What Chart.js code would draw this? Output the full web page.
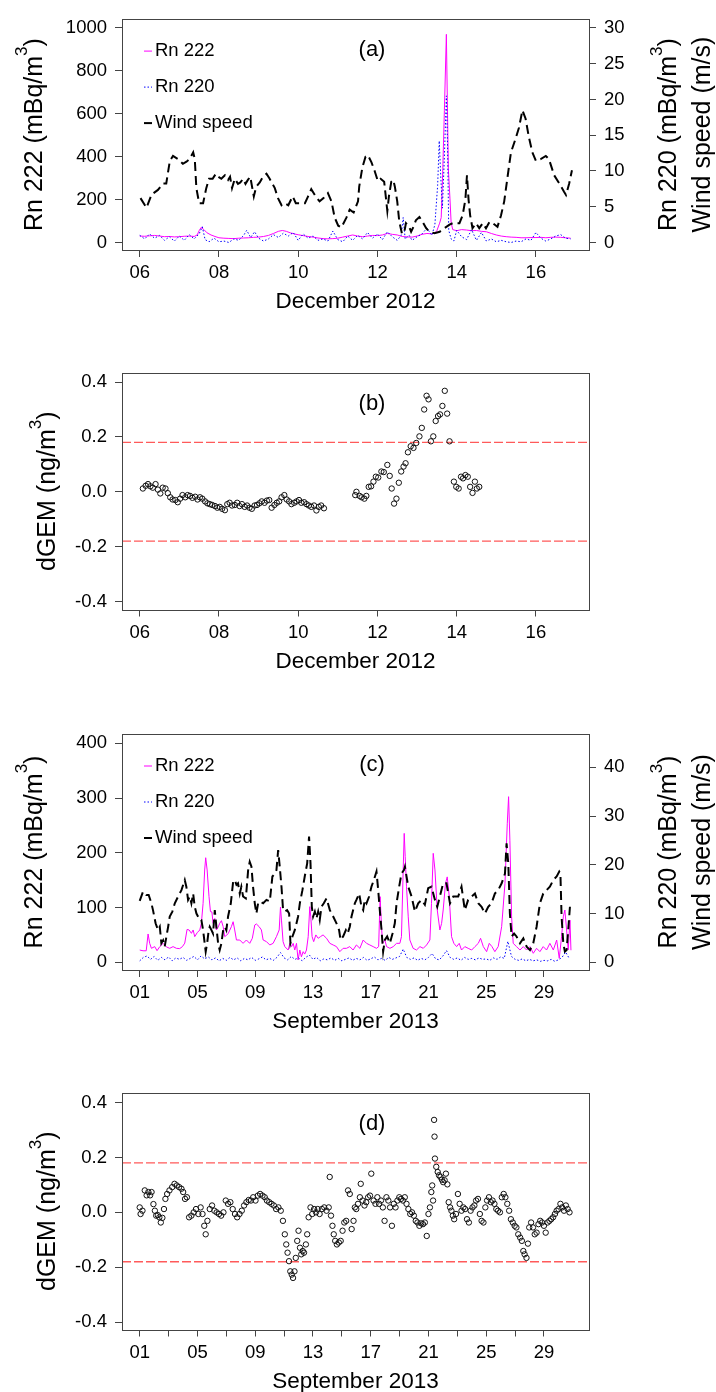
<!DOCTYPE html>
<html>
<head>
<meta charset="utf-8">
<script src="https://cdn.jsdelivr.net/npm/chart.js@4.4.1/dist/chart.umd.min.js"></script>
<style>
  html, body { margin: 0; padding: 0; background: #fff; }
  #wrap { position: relative; width: 716px; height: 1392px; overflow: hidden; background: #fff; }
  #wrap canvas { position: absolute; left: 0; }
</style>
</head>
<body>
<div id="wrap">
  <canvas id="panelA" width="716" height="345" style="top:0px"></canvas>
  <canvas id="panelB" width="716" height="360" style="top:345px"></canvas>
  <canvas id="panelC" width="716" height="360" style="top:705px"></canvas>
  <canvas id="panelD" width="716" height="327" style="top:1065px"></canvas>
</div>
<script>
// ---------- December 2012 (day of month, value) ----------
const rn222Dec = [
  [6.0,30],[6.125,29],[6.25,31],[6.375,33],[6.5,30],[6.625,27],[6.75,28],[6.875,26],[7.0,27],[7.125,29],
  [7.25,30],[7.375,28],[7.45,35],[7.5,55],[7.55,70],[7.62,60],[7.7,45],[7.8,35],[7.9,28],[8.0,22],
  [8.125,20],[8.25,19],[8.375,18],[8.5,20],[8.625,21],[8.75,22],[8.875,24],[9.0,25],[9.125,28],[9.25,33],
  [9.375,42],[9.5,52],[9.6,56],[9.7,52],[9.8,45],[9.9,40],[10.0,36],[10.125,32],[10.25,28],[10.375,25],
  [10.5,21],[10.625,18],[10.75,17],[10.875,18],[11.0,20],[11.125,25],[11.25,30],[11.375,35],[11.5,30],[11.625,27],
  [11.75,30],[11.875,33],[12.0,32],[12.125,35],[12.25,42],[12.375,38],[12.5,35],[12.625,28],[12.75,26],[12.875,25],
  [13.0,30],[13.125,38],[13.25,42],[13.375,40],[13.45,45],[13.5,55],[13.57,90],[13.61,116],[13.65,343],[13.69,615],
  [13.74,970],[13.79,343],[13.83,207],[13.86,94],[13.9,60],[14.0,55],[14.125,60],[14.25,58],[14.375,55],[14.5,56],
  [14.625,52],[14.75,50],[14.875,42],[15.0,35],[15.125,30],[15.25,27],[15.375,25],[15.5,24],[15.625,22],[15.75,22],
  [15.875,23],[16.0,23],[16.125,24],[16.25,22],[16.375,24],[16.5,25],[16.625,24],[16.75,22],[16.875,20]
];
const rn220Dec = [
  [6.0,1.0],[6.125,0.5],[6.25,1.2],[6.375,0.6],[6.5,1.0],[6.625,0.3],[6.75,0.8],[6.875,0.2],[7.0,0.9],[7.125,0.3],
  [7.25,1.1],[7.375,0.5],[7.5,1.2],[7.58,2.2],[7.65,0.4],[7.75,0.1],[7.875,0.6],[8.0,0.1],[8.125,0.2],[8.25,0.0],
  [8.375,0.5],[8.5,0.3],[8.625,1.0],[8.7,1.7],[8.8,0.7],[8.9,1.5],[9.0,0.6],[9.125,0.2],[9.25,0.5],[9.375,1.1],
  [9.5,0.7],[9.625,1.3],[9.75,0.9],[9.875,1.4],[10.0,0.3],[10.125,1.2],[10.25,0.6],[10.375,0.9],[10.5,0.3],[10.625,0.5],
  [10.75,0.2],[10.875,1.6],[11.0,0.4],[11.125,0.1],[11.25,0.9],[11.375,0.3],[11.5,1.0],[11.625,0.5],[11.75,1.4],[11.875,0.6],
  [12.0,1.2],[12.125,0.4],[12.25,1.5],[12.375,0.8],[12.5,0.3],[12.6,1.0],[12.65,3.5],[12.7,0.5],[12.8,1.0],[12.875,0.3],
  [13.0,0.8],[13.125,1.2],[13.25,2.0],[13.375,1.0],[13.45,2.5],[13.52,8.0],[13.56,14.2],[13.6,9.0],[13.64,4.8],[13.69,12.0],
  [13.74,20.5],[13.77,13.5],[13.8,1.7],[13.86,0.5],[13.93,0.2],[14.0,1.7],[14.125,0.8],[14.25,0.4],[14.375,1.8],[14.5,0.3],
  [14.625,1.4],[14.75,0.2],[14.875,0.5],[15.0,0.1],[15.125,0.3],[15.25,0.1],[15.375,0.0],[15.5,0.2],[15.625,0.1],[15.75,0.5],
  [15.875,0.3],[16.0,1.4],[16.125,0.6],[16.25,0.2],[16.375,0.5],[16.5,0.9],[16.625,1.1],[16.75,0.6],[16.875,0.5]
];
const windDec = [
  [6.02,6.2],[6.17,4.85],[6.3,6.7],[6.46,7.35],[6.59,8.25],[6.67,8.25],[6.76,11.4],[6.84,12.1],[6.97,11.65],[7.09,11.0],
  [7.18,11.3],[7.26,11.65],[7.35,12.6],[7.39,11.65],[7.43,7.6],[7.5,5.5],[7.6,5.5],[7.68,7.6],[7.75,8.9],[7.84,8.9],
  [7.92,9.6],[7.98,9.2],[8.06,8.9],[8.15,9.4],[8.23,8.75],[8.28,9.2],[8.33,7.6],[8.4,8.9],[8.48,8.2],[8.54,8.4],
  [8.61,8.9],[8.67,8.2],[8.73,8.75],[8.79,9.2],[8.88,6.45],[8.94,7.8],[9.03,8.4],[9.11,9.2],[9.2,9.6],[9.28,8.9],
  [9.41,7.6],[9.49,6.2],[9.58,5.2],[9.66,5.5],[9.75,5.2],[9.86,6.45],[9.94,5.5],[10.04,5.5],[10.17,5.5],[10.25,6.45],
  [10.33,7.45],[10.44,6.45],[10.54,5.75],[10.64,6.2],[10.75,6.9],[10.84,5.75],[10.92,3.5],[11.01,2.35],[11.09,2.1],[11.22,3.5],
  [11.3,4.6],[11.4,4.2],[11.51,5.75],[11.54,7.8],[11.62,10.5],[11.7,12.0],[11.76,12.2],[11.85,11.2],[11.93,10.0],[12.01,8.6],
  [12.08,8.9],[12.17,8.5],[12.25,4.4],[12.29,6.45],[12.35,8.5],[12.4,8.75],[12.44,7.8],[12.5,5.75],[12.55,3.0],[12.62,1.2],
  [12.68,1.5],[12.72,2.7],[12.8,2.2],[12.85,1.5],[12.91,2.2],[12.97,3.1],[13.06,3.55],[13.14,2.9],[13.23,2.0],[13.31,1.5],
  [13.44,1.3],[13.57,1.5],[13.69,2.0],[13.82,2.5],[13.9,2.7],[13.99,2.7],[14.07,2.7],[14.15,3.8],[14.22,6.0],[14.26,9.4],
  [14.3,6.0],[14.34,3.8],[14.4,2.0],[14.49,2.7],[14.57,2.0],[14.66,2.7],[14.74,2.0],[14.83,2.9],[14.91,2.7],[15.03,2.2],
  [15.12,3.8],[15.2,5.75],[15.29,9.4],[15.37,12.6],[15.48,14.4],[15.57,16.0],[15.66,18.5],[15.74,17.3],[15.82,14.8],[15.91,12.6],
  [16.0,11.4],[16.12,11.65],[16.25,12.1],[16.33,11.65],[16.46,9.4],[16.59,8.25],[16.71,7.1],[16.76,6.65],[16.84,8.25],[16.91,10.1]
];
const dgemDec = [
  [6.08,0.012],[6.15,0.022],[6.21,0.028],[6.27,0.020],[6.33,0.015],[6.40,0.028],[6.46,0.008],[6.52,-0.006],[6.58,0.015],[6.65,0.012],
  [6.71,-0.005],[6.77,-0.020],[6.83,-0.028],[6.90,-0.030],[6.96,-0.038],[7.02,-0.025],[7.08,-0.012],[7.15,-0.020],[7.21,-0.012],[7.27,-0.015],
  [7.33,-0.022],[7.40,-0.018],[7.46,-0.028],[7.52,-0.020],[7.58,-0.025],[7.65,-0.035],[7.71,-0.042],[7.77,-0.045],[7.83,-0.048],[7.90,-0.052],
  [7.96,-0.058],[8.02,-0.055],[8.08,-0.062],[8.15,-0.067],[8.21,-0.045],[8.27,-0.040],[8.33,-0.050],[8.40,-0.048],[8.46,-0.040],[8.52,-0.052],
  [8.58,-0.045],[8.65,-0.055],[8.71,-0.050],[8.77,-0.058],[8.83,-0.062],[8.90,-0.050],[8.96,-0.048],[9.02,-0.042],[9.08,-0.035],[9.15,-0.040],
  [9.21,-0.032],[9.27,-0.030],[9.33,-0.058],[9.40,-0.048],[9.46,-0.040],[9.52,-0.035],[9.58,-0.020],[9.65,-0.012],[9.71,-0.028],[9.77,-0.035],
  [9.83,-0.045],[9.90,-0.040],[9.96,-0.035],[10.02,-0.030],[10.08,-0.040],[10.15,-0.038],[10.21,-0.045],[10.27,-0.050],[10.33,-0.055],[10.40,-0.050],
  [10.46,-0.068],[10.52,-0.055],[10.58,-0.050],[10.65,-0.060],
  [11.44,-0.012],[11.47,0.0],[11.55,-0.015],[11.6,-0.02],[11.67,-0.025],[11.72,-0.015],[11.78,0.018],[11.84,0.02],[11.9,0.037],[11.96,0.055],
  [12.02,0.052],[12.1,0.074],[12.16,0.072],[12.25,0.098],[12.31,0.058],[12.36,0.012],[12.42,-0.043],[12.48,-0.025],[12.54,0.033],[12.6,0.074],
  [12.66,0.092],[12.71,0.104],[12.77,0.144],[12.84,0.166],[12.91,0.16],[12.98,0.178],[13.06,0.202],[13.12,0.233],[13.18,0.3],[13.24,0.35],
  [13.29,0.337],[13.35,0.184],[13.41,0.202],[13.47,0.258],[13.53,0.276],[13.58,0.282],[13.64,0.313],[13.7,0.368],[13.76,0.285],[13.82,0.184],
  [13.93,0.037],[13.99,0.018],[14.05,0.012],[14.11,0.055],[14.16,0.049],[14.22,0.061],[14.28,0.055],[14.34,0.018],[14.4,-0.004],[14.46,0.037],
  [14.51,0.012],[14.57,0.018]
];

// ---------- September 2013 (day of month, value) ----------
const rn222Sep = [
  [1.0,22.4],[1.23,21],[1.45,21],[1.58,51.7],[1.69,34.6],[1.81,25.5],[2.04,28.6],[2.2,21.2],[2.39,28.6],[2.62,34.6],
  [2.85,28],[3.08,25.5],[3.31,28.6],[3.54,25.5],[3.77,25],[3.96,28.6],[4.12,35],[4.28,60],[4.42,59],[4.58,52.9],
  [4.7,59],[4.81,46.8],[4.98,54],[5.16,59],[5.27,71.2],[5.39,107.6],[5.5,168.6],[5.57,191],[5.67,168.6],[5.8,119.9],
  [5.9,92.5],[6.0,92],[6.08,71.2],[6.2,80],[6.31,59],[6.43,64],[6.54,71.2],[6.66,76],[6.78,65],[6.89,46.8],
  [7.12,52],[7.35,65.1],[7.47,74.1],[7.58,59],[7.7,40.7],[7.93,40.7],[8.16,34.6],[8.39,40.7],[8.62,34.6],[8.8,43.8],
  [8.97,68.1],[9.08,70],[9.27,65.1],[9.43,59],[9.55,40.7],[9.78,37.7],[10.01,31.6],[10.24,34.6],[10.47,46.8],[10.66,59],
  [10.75,101],[10.82,77],[10.93,37.7],[11.05,28.6],[11.28,22.4],[11.4,34.6],[11.52,28.6],[11.63,34.6],[11.74,22.4],[11.86,34.6],
  [11.97,4.2],[12.09,22.4],[12.2,10],[12.32,19.4],[12.43,15],[12.55,22.4],[12.67,46.8],[12.78,101.6],[12.85,83],[12.94,46.8],
  [13.05,37.7],[13.2,50],[13.36,43.8],[13.52,46.8],[13.7,50],[13.94,43.8],[14.17,34.6],[14.4,31.6],[14.63,28.6],[14.86,19.4],
  [15.09,25.5],[15.32,25.5],[15.55,28.6],[15.78,22.4],[16.01,31.6],[16.25,25.5],[16.48,40.7],[16.71,34.6],[16.94,31.6],[17.17,28.6],
  [17.4,25.5],[17.55,28.6],[17.65,119.9],[17.75,65],[17.82,34.6],[17.98,40.7],[18.1,28.6],[18.33,25.5],[18.56,28.6],[18.79,34.6],
  [19.02,34.6],[19.13,46.8],[19.25,168.6],[19.32,235.5],[19.39,193],[19.48,138],[19.6,83],[19.71,40.7],[19.94,25.5],[20.17,22.4],
  [20.41,28.6],[20.64,25.5],[20.87,31.6],[21.1,40.7],[21.21,107.6],[21.33,199],[21.45,168.6],[21.61,95.5],[21.79,59],[21.91,71],
  [22.02,95.5],[22.18,144],[22.3,156],[22.44,120],[22.6,46.8],[22.76,34.6],[22.95,28.6],[23.13,34.6],[23.29,22.4],[23.52,28.6],
  [23.75,25.5],[23.99,22.4],[24.22,28.6],[24.45,34.6],[24.61,43.8],[24.8,28.6],[25.03,19.4],[25.21,34.6],[25.4,28.6],[25.6,19.4],
  [25.83,28.6],[26.07,65],[26.3,144],[26.46,254],[26.55,302.5],[26.64,223],[26.76,83],[26.87,34.6],[27.1,28.6],[27.34,22.4],
  [27.57,28.6],[27.8,22.4],[28.03,28.6],[28.26,16.4],[28.49,25.5],[28.72,19.4],[28.95,28.6],[29.18,22.4],[29.41,34.6],[29.65,22.4],
  [29.88,40.7],[30.06,7.2],[30.22,46.8],[30.34,83],[30.45,95.5],[30.57,59],[30.68,22.4],[30.8,77],[30.87,22]
];
// Rn 220 in September, one reading every 6 h from 1 Sep 00:00
const rn220SepStart = 1.0;
const rn220SepStep = 0.25;
const rn220Sep = [
  0.3, 1.0, 1.3, 0.6, 1.2, 0.4, 1.0, 0.5, 1.1, 0.3, 0.9, 0.6,
  1.0, 0.4, 0.8, 1.2, 0.5, 1.3, 0.7, 1.1, 0.5, 0.9, 0.3, 0.8,
  0.4, 1.0, 0.5, 0.9, 0.3, 0.8, 0.5, 1.0, 0.4, 0.7, 1.1, 0.5,
  0.8, 0.4, 1.0, 2.0, 0.9, 0.5, 1.2, 0.6, 0.9, 0.3, 1.0, 1.5,
  0.6, 1.0, 0.3, 0.7, 0.5, 0.9, 0.4, 0.8, 0.3, 0.6, 0.9, 0.4,
  0.8, 0.5, 1.0, 0.4, 0.7, 1.1, 0.5, 0.8, 0.4, 1.0, 0.6, 0.9,
  1.2, 2.7, 1.0, 0.6, 0.9, 0.4, 0.8, 0.5, 1.0, 1.8, 0.7, 0.5,
  1.3, 2.4, 1.0, 0.6, 0.9, 0.4, 1.0, 0.6, 0.8, 0.5, 0.9, 0.6,
  0.7, 0.4, 0.9, 0.6, 1.1, 0.8, 4.3, 1.2, 0.6, 0.4, 0.7, 0.3,
  0.6, 0.3, 0.5, 0.2, 0.4, 0.3, 0.6, 0.2, 0.5, 1.0, 2.1, 0.8
];
const windSep = [
  [1.0,12.6],[1.23,14.5],[1.46,13.8],[1.62,13.8],[1.81,12.1],[1.92,10.7],[2.1,8.0],[2.27,6.6],[2.39,7.3],[2.5,3.9],
  [2.62,4.5],[2.73,3.2],[2.85,5.3],[2.97,7.3],[3.08,9.4],[3.26,10.4],[3.43,12.1],[3.66,13.5],[3.89,14.8],[4.12,16.9],
  [4.23,15.5],[4.35,12.8],[4.47,13.5],[4.58,12.1],[4.7,14.1],[4.81,11.4],[4.93,10.0],[5.16,8.7],[5.27,8.7],[5.39,6.6],
  [5.5,3.9],[5.57,2.2],[5.67,3.9],[5.78,6.6],[5.85,7.3],[5.97,6.6],[6.08,5.9],[6.2,10.7],[6.31,7.3],[6.43,3.9],
  [6.54,2.5],[6.66,3.9],[6.78,6.6],[6.89,7.3],[7.0,6.6],[7.12,9.4],[7.31,12.1],[7.47,16.5],[7.58,16.9],[7.7,15.9],
  [7.81,16.2],[7.93,14.1],[8.04,15.5],[8.16,13.5],[8.35,13.1],[8.51,18.9],[8.62,20.6],[8.74,19.6],[8.85,15.5],[8.97,12.1],
  [9.08,10.0],[9.2,12.1],[9.31,12.5],[9.55,12.1],[9.78,12.8],[10.01,12.5],[10.19,17.6],[10.36,18.2],[10.47,18.9],[10.59,23.0],
  [10.7,19.6],[10.82,15.5],[10.93,10.7],[11.05,10.4],[11.21,10.7],[11.35,10.0],[11.44,3.9],[11.58,5.3],[11.74,6.6],[11.86,8.0],
  [11.97,9.4],[12.09,12.1],[12.27,14.8],[12.43,17.6],[12.6,20.3],[12.73,25.8],[12.83,20.3],[12.92,11.4],[13.01,9.4],[13.13,10.4],
  [13.24,9.0],[13.36,10.4],[13.47,8.7],[13.59,11.4],[13.75,12.1],[13.94,13.1],[14.17,10.7],[14.4,9.4],[14.63,8.0],[14.81,6.6],
  [14.91,4.6],[15.09,5.3],[15.28,6.6],[15.4,5.9],[15.55,7.3],[15.67,9.4],[15.78,10.7],[15.9,12.1],[16.01,12.8],[16.2,14.1],
  [16.36,11.4],[16.48,10.7],[16.59,12.8],[16.71,12.1],[16.89,13.5],[17.05,15.5],[17.22,16.9],[17.4,18.6],[17.52,14.8],[17.63,10.7],
  [17.75,6.6],[17.86,2.2],[17.98,4.6],[18.14,5.3],[18.33,3.9],[18.51,5.9],[18.67,8.0],[18.79,12.1],[18.97,15.5],[19.13,18.2],
  [19.3,18.9],[19.37,19.6],[19.6,15.5],[19.83,13.5],[20.06,10.4],[20.29,12.1],[20.52,12.8],[20.75,11.8],[20.98,15.2],[21.21,15.5],
  [21.45,12.8],[21.61,11.4],[21.79,13.5],[22.02,16.2],[22.25,16.2],[22.49,12.1],[22.72,13.5],[23.06,13.5],[23.29,15.5],[23.52,10.7],
  [23.75,12.8],[23.99,13.5],[24.22,14.1],[24.45,12.1],[24.68,11.4],[24.91,10.0],[25.14,11.4],[25.37,12.1],[25.6,14.1],[25.83,14.8],
  [26.07,16.2],[26.3,18.2],[26.41,24.4],[26.53,20.3],[26.64,10.0],[26.76,5.3],[26.93,5.9],[27.1,5.3],[27.34,3.9],[27.57,4.9],
  [27.8,3.2],[28.03,2.5],[28.26,3.9],[28.49,7.3],[28.72,12.1],[28.95,14.1],[29.18,14.8],[29.41,15.5],[29.65,16.9],[29.88,17.6],
  [30.06,18.6],[30.14,18.2],[30.22,9.4],[30.34,3.9],[30.45,2.2],[30.57,2.5],[30.68,6.6],[30.8,11.4]
];
const dgemSep = [
  [1.0,0.018],[1.06,-0.006],[1.19,0.006],[1.35,0.08],[1.48,0.062],[1.6,0.074],[1.72,0.062],[1.82,0.074],[1.95,0.03],[2.05,0.006],
  [2.14,-0.012],[2.25,-0.01],[2.36,-0.018],[2.46,-0.037],[2.57,-0.02],[2.68,0.012],[2.78,0.049],[2.9,0.067],[3.06,0.08],[3.25,0.092],
  [3.41,0.104],[3.57,0.098],[3.73,0.092],[3.89,0.086],[4.01,0.074],[4.14,0.049],[4.27,0.055],[4.42,-0.018],[4.58,-0.012],[4.74,0.0],
  [4.9,0.012],[5.06,-0.006],[5.22,0.018],[5.35,-0.006],[5.47,-0.049],[5.57,-0.08],[5.69,-0.031],[5.85,0.012],[6.01,0.025],[6.17,0.006],
  [6.33,0.0],[6.49,-0.006],[6.64,-0.012],[6.8,0.0],[6.96,0.043],[7.12,0.031],[7.28,0.037],[7.44,0.012],[7.6,-0.006],[7.75,-0.018],
  [7.91,-0.006],[8.07,0.006],[8.23,0.025],[8.39,0.037],[8.55,0.045],[8.7,0.043],[8.86,0.055],[9.02,0.043],[9.18,0.061],[9.34,0.067],
  [9.5,0.061],[9.66,0.055],[9.81,0.043],[9.97,0.037],[10.13,0.031],[10.29,0.025],[10.45,0.012],[10.61,0.018],[10.77,0.006],[10.92,-0.031],
  [11.05,-0.08],[11.15,-0.117],[11.24,-0.147],[11.34,-0.178],[11.43,-0.215],[11.53,-0.227],[11.62,-0.239],[11.72,-0.215],[11.81,-0.166],[11.91,-0.104],
  [12.0,-0.067],[12.1,-0.129],[12.19,-0.153],[12.29,-0.141],[12.38,-0.147],[12.51,-0.117],[12.6,-0.08],[12.7,-0.018],[12.83,0.018],[12.95,-0.006],
  [13.08,0.012],[13.21,0.0],[13.33,0.012],[13.46,-0.006],[13.62,0.012],[13.78,0.018],[13.94,0.006],[14.09,0.018],[14.16,0.129],[14.25,-0.012],
  [14.35,-0.049],[14.44,-0.08],[14.54,-0.104],[14.66,-0.117],[14.79,-0.11],[14.92,-0.104],[15.05,-0.067],[15.17,-0.037],[15.3,-0.031],[15.43,0.08],
  [15.55,0.067],[15.68,-0.061],[15.81,-0.031],[15.9,0.018],[16.0,0.012],[16.12,0.031],[16.25,0.055],[16.31,0.104],[16.44,0.043],[16.57,0.025],
  [16.69,0.037],[16.82,0.055],[16.95,0.061],[17.04,0.141],[17.2,0.043],[17.33,0.031],[17.46,0.055],[17.58,0.031],[17.71,0.043],[17.84,0.018],
  [17.96,-0.031],[18.09,0.055],[18.22,0.043],[18.34,0.018],[18.47,-0.049],[18.6,0.031],[18.72,0.018],[18.85,0.043],[18.98,0.055],[19.1,0.049],
  [19.23,0.043],[19.36,0.055],[19.48,0.031],[19.61,0.012],[19.74,-0.006],[19.86,0.0],[19.99,-0.012],[20.12,-0.031],[20.24,-0.037],[20.37,-0.049],
  [20.5,-0.04],[20.62,-0.043],[20.75,-0.037],[20.88,-0.086],[21.0,-0.006],[21.1,0.018],[21.2,0.074],[21.26,0.098],[21.32,0.043],[21.39,0.337],
  [21.42,0.276],[21.45,0.196],[21.54,0.166],[21.64,0.147],[21.73,0.135],[21.83,0.129],[21.93,0.119],[22.02,0.11],[22.12,0.117],[22.21,0.141],
  [22.31,0.102],[22.4,0.037],[22.5,0.018],[22.59,0.006],[22.69,-0.012],[22.78,-0.025],[22.91,-0.006],[23.04,0.067],[23.16,0.031],[23.29,0.006],
  [23.42,0.018],[23.54,0.012],[23.67,-0.025],[23.8,-0.037],[23.92,0.006],[24.05,0.018],[24.18,0.025],[24.3,0.043],[24.43,0.049],[24.56,-0.006],
  [24.68,-0.031],[24.81,-0.037],[24.94,0.018],[25.06,0.043],[25.19,0.055],[25.32,0.037],[25.44,0.043],[25.57,0.031],[25.7,0.012],[25.82,0.006],
  [25.95,0.0],[26.08,0.055],[26.21,0.067],[26.33,0.055],[26.46,0.031],[26.59,0.006],[26.71,-0.025],[26.84,-0.037],[26.97,-0.049],[27.09,-0.055],
  [27.22,-0.08],[27.35,-0.092],[27.47,-0.104],[27.57,-0.141],[27.66,-0.153],[27.79,-0.166],[27.89,-0.114],[27.98,-0.055],[28.11,-0.037],[28.24,-0.055],
  [28.36,-0.08],[28.49,-0.074],[28.62,-0.043],[28.74,-0.031],[28.87,-0.037],[29.0,-0.049],[29.12,-0.074],[29.25,-0.037],[29.38,-0.031],[29.5,-0.025],
  [29.63,-0.018],[29.76,-0.006],[29.88,0.006],[30.01,0.012],[30.14,0.031],[30.26,0.018],[30.39,0.006],[30.52,0.025],[30.64,0.012],[30.77,0.0]
];

// ---------- tick labels / reference level ----------
const decTicks = [6, 8, 10, 12, 14, 16];
const sepTicks = [1, 3, 5, 7, 9, 11, 13, 15, 17, 19, 21, 23, 25, 27, 29];
const sepLabelled = [1, 5, 9, 13, 17, 21, 25, 29];
const rn222TicksDec = [0, 200, 400, 600, 800, 1000];
const rightTicksDec = [0, 5, 10, 15, 20, 25, 30];
const rn222TicksSep = [0, 100, 200, 300, 400];
const rightTicksSep = [0, 10, 20, 30, 40];
const dgemTicks = [-0.4, -0.2, 0.0, 0.2, 0.4];
const dgemLimit = 0.18;

// ---------- styling ----------
const FONT = "'Liberation Sans', Arial, Helvetica, sans-serif";
const TICK_SIZE = 18.5;
const TITLE_SIZE = 25;
const XTITLE_SIZE = 22.5;
const AXIS_COLOR = '#444';
const COL_RN222 = '#ff00ff';
const COL_RN220 = '#0000ff';
const COL_WIND = '#000000';
const COL_LIMIT = '#ff5a5a';

Chart.defaults.font.family = FONT;
Chart.defaults.color = '#000';
Chart.defaults.animation = false;

const toXY = arr => arr.map(p => ({ x: p[0], y: p[1] }));
const pad2 = v => String(Math.round(v)).padStart(2, '0');

function xAxis(min, max, ticks, labelFn, height) {
  return {
    type: 'linear', position: 'bottom', min: min, max: max,
    afterBuildTicks: s => { s.ticks = ticks.map(v => ({ value: v })); },
    afterFit: s => { s.height = height; },
    grid: { display: true, drawOnChartArea: false, drawTicks: true, tickLength: 7, color: AXIS_COLOR, lineWidth: 1 },
    border: { display: false },
    ticks: { font: { size: TICK_SIZE }, color: '#000', padding: 5, maxRotation: 0, minRotation: 0, autoSkip: false, callback: labelFn }
  };
}
function yAxis(pos, min, max, ticks, labelFn, width) {
  return {
    type: 'linear', position: pos, min: min, max: max,
    afterBuildTicks: s => { s.ticks = ticks.map(v => ({ value: v })); },
    afterFit: s => { s.width = width; },
    grid: { display: true, drawOnChartArea: false, drawTicks: true, tickLength: 7, color: AXIS_COLOR, lineWidth: 1 },
    border: { display: false },
    ticks: { font: { size: TICK_SIZE }, color: '#000', padding: 8, autoSkip: false, callback: labelFn }
  };
}

// text with an optional raised "3"
function richText(ctx, parts, x, y, size, rotate) {
  ctx.save();
  ctx.translate(x, y);
  if (rotate) ctx.rotate(-Math.PI / 2);
  ctx.textBaseline = 'alphabetic';
  ctx.textAlign = 'left';
  ctx.fillStyle = '#000';
  const widths = parts.map(p => {
    ctx.font = (p.sup ? size * 0.68 : size) + 'px ' + FONT;
    return ctx.measureText(p.t).width;
  });
  let cx = -widths.reduce((a, b) => a + b, 0) / 2;
  parts.forEach((p, i) => {
    ctx.font = (p.sup ? size * 0.68 : size) + 'px ' + FONT;
    ctx.fillText(p.t, cx, p.sup ? -size * 0.58 : 0);
    cx += widths[i];
  });
  ctx.restore();
}

// frame, axis titles, panel tag and legend
function decor(cfg) {
  return {
    id: 'decor',
    afterDatasetsDraw(chart) {
      const ctx = chart.ctx, a = chart.chartArea;
      ctx.save();
      ctx.strokeStyle = AXIS_COLOR;
      ctx.lineWidth = 1;
      ctx.strokeRect(Math.round(a.left) + 0.5, Math.round(a.top) + 0.5,
        Math.round(a.right) - Math.round(a.left), Math.round(a.bottom) - Math.round(a.top));
      ctx.restore();
    },
    afterDraw(chart) {
      const ctx = chart.ctx, a = chart.chartArea;
      const midY = (a.top + a.bottom) / 2, midX = (a.left + a.right) / 2;
      richText(ctx, cfg.leftTitle, cfg.leftX, midY, TITLE_SIZE, true);
      (cfg.rightTitles || []).forEach(t => richText(ctx, t.parts, t.x, midY, TITLE_SIZE, true));
      richText(ctx, [{ t: cfg.xTitle }], midX, a.bottom + 58, XTITLE_SIZE, false);
      ctx.save();
      ctx.font = '22px ' + FONT;
      ctx.fillStyle = '#000';
      ctx.textAlign = 'center';
      ctx.textBaseline = 'middle';
      ctx.fillText(cfg.tag, 372, a.top + 31);
      ctx.restore();
      if (cfg.legend) {
        ctx.save();
        cfg.legend.forEach((it, i) => {
          const y = a.top + 32 + i * 36;
          ctx.beginPath();
          ctx.strokeStyle = it.color;
          ctx.lineWidth = it.width;
          ctx.setLineDash(it.dash);
          ctx.moveTo(144, y);
          ctx.lineTo(152, y);
          ctx.stroke();
          ctx.setLineDash([]);
          ctx.font = TICK_SIZE + 'px ' + FONT;
          ctx.fillStyle = '#000';
          ctx.textAlign = 'left';
          ctx.textBaseline = 'middle';
          ctx.fillText(it.label, 155, y);
        });
        ctx.restore();
      }
    }
  };
}

const baseOptions = (padTop, padRight, scales) => ({
  responsive: false,
  animation: false,
  events: [],
  layout: { padding: { top: padTop, left: 0, right: padRight, bottom: 0 } },
  plugins: { legend: { display: false }, tooltip: { enabled: false } },
  scales: scales
});

const rnLegend = [
  { label: 'Rn 222', color: COL_RN222, width: 1, dash: [] },
  { label: 'Rn 220', color: COL_RN220, width: 1, dash: [1.5, 2] },
  { label: 'Wind speed', color: COL_WIND, width: 2, dash: [] }
];
const rn222Title = [{ t: 'Rn 222 (mBq/m' }, { t: '3', sup: true }, { t: ')' }];
const rightTitles = [
  { x: 676, parts: [{ t: 'Rn 220 (mBq/m' }, { t: '3', sup: true }, { t: ')' }] },
  { x: 710, parts: [{ t: 'Wind speed (m/s)' }] }
];
const dgemTitle = [{ t: 'dGEM (ng/m' }, { t: '3', sup: true }, { t: ')' }];

function lineSet(data, color, width, dash, axis, order) {
  return { type: 'line', data: toXY(data), yAxisID: axis, borderColor: color, borderWidth: width,
    borderDash: dash, pointRadius: 0, tension: 0, fill: false, order: order };
}
function limitSet(y, xmin, xmax) {
  return { type: 'line', data: [{ x: xmin, y: y }, { x: xmax, y: y }], yAxisID: 'y', borderColor: COL_LIMIT,
    borderWidth: 1.3, borderDash: [9, 3], pointRadius: 0, fill: false, order: 2 };
}
function pointSet(data) {
  return { type: 'scatter', data: toXY(data), yAxisID: 'y', showLine: false, pointStyle: 'circle',
    pointRadius: 2.7, pointBorderWidth: 1, pointBorderColor: '#111', pointBackgroundColor: 'rgba(0,0,0,0)', order: 1 };
}

// ---------- (a) December 2012 radon and wind ----------
const decMin = 5.553, decMax = 17.34;
new Chart(document.getElementById('panelA'), {
  type: 'line',
  data: { datasets: [
    lineSet(windDec, COL_WIND, 2, [9, 5], 'y2', 1),
    lineSet(rn220Dec, COL_RN220, 1, [1.5, 2], 'y2', 2),
    lineSet(rn222Dec, COL_RN222, 1, [], 'y', 3)
  ] },
  options: baseOptions(13, 0, {
    x: xAxis(decMin, decMax, decTicks, v => pad2(v), 95),
    y: yAxis('left', -35, 1041, rn222TicksDec, v => String(v), 122),
    y2: yAxis('right', -1.05, 31.23, rightTicksDec, v => String(v), 127)
  }),
  plugins: [decor({ leftTitle: rn222Title, leftX: 41.5, rightTitles: rightTitles, xTitle: 'December 2012', tag: '(a)', legend: rnLegend })]
});

// ---------- (b) December 2012 dGEM ----------
new Chart(document.getElementById('panelB'), {
  type: 'scatter',
  data: { datasets: [
    pointSet(dgemDec),
    limitSet(dgemLimit, decMin, decMax),
    limitSet(-dgemLimit, decMin, decMax)
  ] },
  options: baseOptions(28, 127, {
    x: xAxis(decMin, decMax, decTicks, v => pad2(v), 95.5),
    y: yAxis('left', -0.429, 0.433, dgemTicks, v => v.toFixed(1), 122)
  }),
  plugins: [decor({ leftTitle: dgemTitle, leftX: 55, xTitle: 'December 2012', tag: '(b)' })]
});

// ---------- (c) September 2013 radon and wind ----------
const sepMin = -0.227, sepMax = 32.12;
const sepLabel = v => (sepLabelled.indexOf(Math.round(v)) >= 0 ? pad2(v) : '');
new Chart(document.getElementById('panelC'), {
  type: 'line',
  data: { datasets: [
    lineSet(windSep, COL_WIND, 2, [9, 5], 'y2', 1),
    lineSet(rn220Sep.map((v, i) => [rn220SepStart + i * rn220SepStep, v]), COL_RN220, 1, [1.5, 2], 'y2', 2),
    lineSet(rn222Sep, COL_RN222, 1, [], 'y', 3)
  ] },
  options: baseOptions(29, 0, {
    x: xAxis(sepMin, sepMax, sepTicks, sepLabel, 95),
    y: yAxis('left', -14.1, 417, rn222TicksSep, v => String(v), 122),
    y2: yAxis('right', -1.58, 46.83, rightTicksSep, v => String(v), 127)
  }),
  plugins: [decor({ leftTitle: rn222Title, leftX: 41.5, rightTitles: rightTitles, xTitle: 'September 2013', tag: '(c)', legend: rnLegend })]
});

// ---------- (d) September 2013 dGEM ----------
new Chart(document.getElementById('panelD'), {
  type: 'scatter',
  data: { datasets: [
    pointSet(dgemSep),
    limitSet(dgemLimit, sepMin, sepMax),
    limitSet(-dgemLimit, sepMin, sepMax)
  ] },
  options: baseOptions(28, 127, {
    x: xAxis(sepMin, sepMax, sepTicks, sepLabel, 62.5),
    y: yAxis('left', -0.427, 0.435, dgemTicks, v => v.toFixed(1), 122)
  }),
  plugins: [decor({ leftTitle: dgemTitle, leftX: 55, xTitle: 'September 2013', tag: '(d)' })]
});
</script>
</body>
</html>
